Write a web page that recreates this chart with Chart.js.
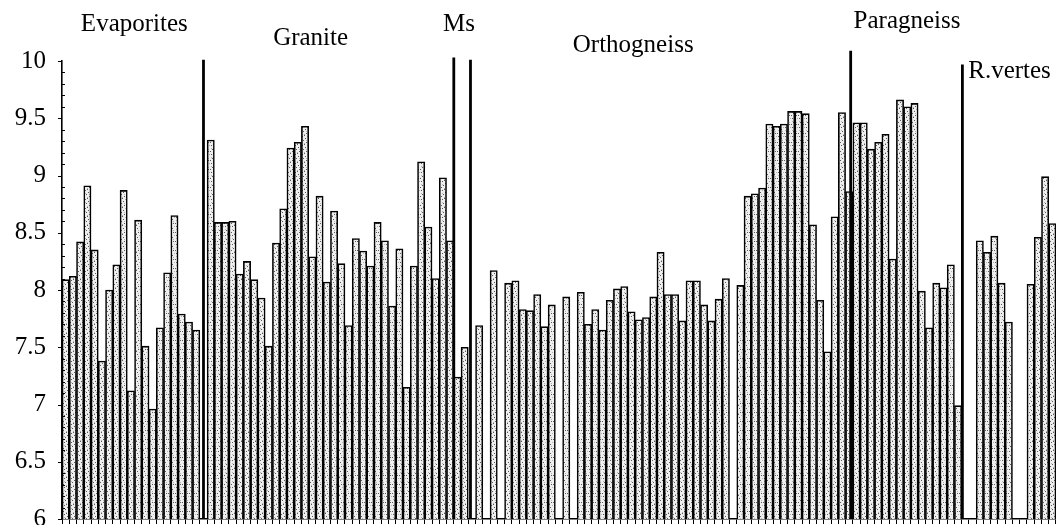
<!DOCTYPE html>
<html>
<head>
<meta charset="utf-8">
<script src="https://cdn.jsdelivr.net/npm/chart.js@4.4.1/dist/chart.umd.min.js"></script>
<style>
html,body{margin:0;padding:0;background:#fff;}
canvas{display:block;}
</style>
</head>
<body>
<canvas id="c" width="1056" height="525"></canvas>
<script>
// ---- data ----
const groupNames = ["Evaporites", "Granite", "Ms", "Orthogneiss", "Paragneiss", "R.vertes"];
const evaporites = [8.09, 8.12, 8.42, 8.91, 8.35, 7.38, 8.0, 8.22, 8.87, 7.12, 8.61, 7.51, 6.96, 7.67, 8.15, 8.65, 7.79, 7.72, 7.65];
const granite = [9.31, 8.59, 8.59, 8.6, 8.14, 8.25, 8.09, 7.93, 7.51, 8.41, 8.71, 9.24, 9.29, 9.43, 8.29, 8.82, 8.07, 8.69, 8.23, 7.69, 8.45, 8.34, 8.21, 8.59, 8.43, 7.86, 8.36, 7.15, 8.21, 9.12, 8.55, 8.1, 8.98, 8.43];
const ms = [7.24, 7.5];
const orthogneiss = [7.69, null, 8.17, null, 8.06, 8.08, 7.83, 7.82, 7.96, 7.68, 7.87, null, 7.94, null, 7.98, 7.7, 7.83, 7.65, 7.91, 8.01, 8.03, 7.81, 7.74, 7.76, 7.94, 8.33, 7.96, 7.96, 7.73, 8.08, 8.08, 7.87, 7.73, 7.92, 8.1, null, 8.04, 8.82, 8.84, 8.89, 9.45, 9.43, 9.45, 9.56, 9.56, 9.54, 8.57, 7.91, 7.46, 8.64, 9.55, 8.86];
const paragneiss = [9.46, 9.46, 9.23, 9.29, 9.36, 8.27, 9.66, 9.6, 9.63, 7.99, 7.67, 8.06, 8.02, 8.22, 6.99];
const rVertes = [null, null, 8.43, 8.33, 8.47, 8.06, 7.72, null, null, 8.05, 8.46, 8.99, 8.58];
const yTicks = [6, 6.5, 7, 7.5, 8, 8.5, 9, 9.5, 10];

const groups = [evaporites, granite, ms, orthogneiss, paragneiss, rVertes];

// ---- layout / style settings ----
const spacerAfter = [1, 0, 1, 0, 0, 0];            // empty slots drawn after each group
const separatorSlots = [19, 53.5, 55.8, 108.2, 123.6]; // where the heavy dividers stand (category index)
const separatorTop = [10.01, 10.03, 10.01, 10.09, 9.97];
const labelPlacement = [ // [category index of text left edge, value at baseline]
  [2.1, 10.26], [28.6, 10.14], [52.0, 10.26], [69.9, 10.08], [108.6, 10.29], [124.4, 9.85]
];
const SERIF = "'Liberation Serif', 'DejaVu Serif', serif";

const values = [];
groups.forEach((g, i) => {
  g.forEach(v => values.push(v));
  for (let k = 0; k < spacerAfter[i]; k++) values.push(null);
});
const labels = values.map((v, i) => String(i + 1));

// stipple pattern for bars
function makePattern() {
  const p = document.createElement('canvas');
  p.width = 7; p.height = 9;
  const g = p.getContext('2d');
  g.fillStyle = '#efefef';
  g.fillRect(0, 0, 7, 9);
  g.fillStyle = '#5a5a5a';
  [[1,1],[4,3],[2,5],[5,7],[0,7],[3,0]].forEach(([x,y]) => g.fillRect(x, y, 1, 1));
  g.fillStyle = '#b4b4b4';
  [[6,1],[1,4],[5,5],[3,8]].forEach(([x,y]) => g.fillRect(x, y, 1, 1));
  return g.createPattern(p, 'repeat');
}

const decorPlugin = {
  id: 'decor',
  afterDatasetsDraw(chart) {
    const ctx = chart.ctx;
    const xs = chart.scales.x, ys = chart.scales.y;
    ctx.save();
    ctx.strokeStyle = '#000';
    ctx.lineWidth = 1;
    // major ticks (outside) and minor ticks (inside) on the y axis
    for (let k = 60; k <= 100; k++) {
      const y = Math.round(ys.getPixelForValue(k / 10)) + 0.5;
      ctx.beginPath();
      if (k % 5 === 0) { ctx.moveTo(xs.left - 4, y); ctx.lineTo(xs.left, y); }
      else { ctx.moveTo(xs.left, y); ctx.lineTo(xs.left + 3, y); }
      ctx.stroke();
    }
    // group separators
    ctx.lineWidth = 2.8;
    separatorSlots.forEach((s, i) => {
      const x = xs.getPixelForValue(s);
      ctx.beginPath();
      ctx.moveTo(x, ys.getPixelForValue(separatorTop[i]));
      ctx.lineTo(x, ys.getPixelForValue(6));
      ctx.stroke();
    });
    // group labels
    ctx.fillStyle = '#000';
    ctx.font = "25px " + SERIF;
    ctx.textAlign = 'left';
    ctx.textBaseline = 'alphabetic';
    groupNames.forEach((name, i) => {
      const [slot, v] = labelPlacement[i];
      ctx.fillText(name, xs.getPixelForValue(slot), ys.getPixelForValue(v));
    });
    ctx.restore();
  }
};

new Chart(document.getElementById('c'), {
  type: 'bar',
  data: {
    labels: labels,
    datasets: [{
      data: values,
      backgroundColor: makePattern(),
      borderColor: '#000',
      borderWidth: 1.6,
      borderSkipped: 'bottom',
      barPercentage: 1,
      categoryPercentage: 1
    }]
  },
  options: {
    responsive: false,
    animation: false,
    devicePixelRatio: 1,
    layout: { padding: { top: 61, right: 0, left: 0, bottom: 0 } },
    plugins: { legend: { display: false }, tooltip: { enabled: false } },
    scales: {
      x: {
        type: 'category',
        offset: true,
        ticks: { display: false },
        grid: { drawOnChartArea: false, drawTicks: true, tickLength: 5, color: '#000', lineWidth: 1, offset: true },
        border: { display: true, color: '#000', width: 1.6 },
        afterFit(s) { s.height = 6; }
      },
      y: {
        min: 6,
        max: 10,
        afterBuildTicks(s) { s.ticks = yTicks.map(v => ({ value: v })); },
        ticks: {
          color: '#000',
          padding: 0,
          font: { family: SERIF, size: 25, lineHeight: 0.4 },
          callback: v => String(v)
        },
        grid: { drawOnChartArea: false, drawTicks: true, tickLength: 16, tickColor: 'rgba(0,0,0,0)', lineWidth: 1 },
        border: { display: true, color: '#000', width: 1.6 },
        afterFit(s) { s.width = 62; }
      }
    }
  },
  plugins: [decorPlugin]
});
</script>
</body>
</html>
